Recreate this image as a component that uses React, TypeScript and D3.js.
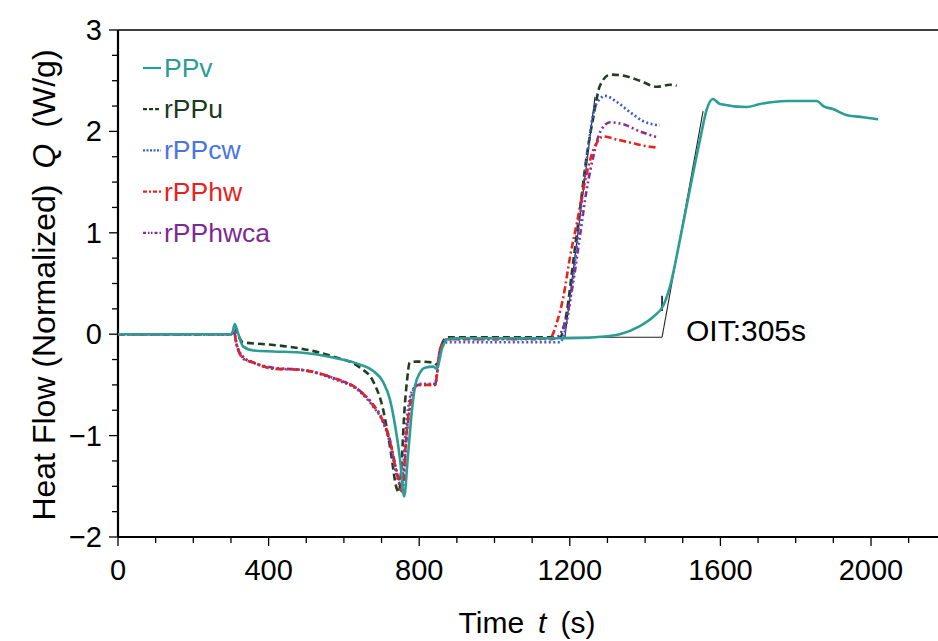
import React from "react";
import * as d3 from "d3";

// ---- data (time s, heat flow W/g) ----
const ppv: [number, number][] = [
  [0, 0], [300, 0], [305, 0.03], [310, 0.1], [318, 0.02], [332, -0.12], [360, -0.16], [412, -0.17],
  [483, -0.18], [571, -0.23], [643, -0.3], [677, -0.36], [704, -0.47], [722, -0.64], [736, -0.9],
  [749, -1.23], [760, -1.6], [770, -1.2], [781, -0.74], [789, -0.51], [802, -0.38], [815, -0.33],
  [837, -0.32], [847, -0.34], [860, -0.15], [874, -0.05], [900, -0.04], [1200, -0.04], [1300, -0.02],
  [1333, 0], [1386, 0.08], [1421, 0.17], [1448, 0.28], [1466, 0.47], [1493, 0.94], [1519, 1.43],
  [1546, 1.92], [1564, 2.22], [1580, 2.32], [1599, 2.27], [1670, 2.24], [1705, 2.27], [1777, 2.3],
  [1856, 2.3], [1873, 2.25], [1899, 2.22], [1936, 2.16], [1979, 2.14], [2019, 2.12],
];
const rppu: [number, number][] = [
  [0, 0], [300, 0], [306, 0.02], [310, 0.07], [318, 0], [332, -0.08], [395, -0.1], [483, -0.14],
  [571, -0.22], [643, -0.33], [677, -0.46], [704, -0.74], [722, -1.1], [741, -1.53], [746, -1.56],
  [754, -1.23], [760, -0.8], [767, -0.48], [775, -0.28], [793, -0.27], [837, -0.28], [847, -0.3],
  [860, -0.1], [874, -0.03], [900, -0.03], [1174, -0.03], [1192, 0.22], [1209, 0.71], [1227, 1.23],
  [1245, 1.76], [1263, 2.15], [1280, 2.45], [1307, 2.56], [1342, 2.55], [1386, 2.5], [1432, 2.44],
  [1466, 2.46], [1484, 2.45],
];
const rppcw: [number, number][] = [
  [0, 0], [300, 0], [308, 0.03], [315, -0.1], [332, -0.22], [360, -0.28], [412, -0.34], [483, -0.35],
  [571, -0.44], [643, -0.57], [677, -0.71], [704, -0.87], [722, -1.07], [741, -1.4], [754, -1.5],
  [762, -1.04], [770, -0.74], [784, -0.54], [802, -0.49], [842, -0.49], [855, -0.18], [874, -0.08],
  [900, -0.08], [1174, -0.08], [1192, 0.12], [1209, 0.57], [1227, 1.16], [1245, 1.72], [1263, 2.19],
  [1280, 2.32], [1294, 2.35], [1325, 2.29], [1360, 2.19], [1395, 2.1], [1439, 2.06],
];
const rpphw: [number, number][] = [
  [0, 0], [300, 0], [308, 0.02], [315, -0.1], [332, -0.24], [360, -0.28], [412, -0.34], [483, -0.35],
  [571, -0.43], [643, -0.56], [677, -0.7], [704, -0.86], [722, -1.05], [741, -1.38], [754, -1.55],
  [767, -0.95], [780, -0.6], [797, -0.5], [842, -0.5], [855, -0.15], [874, -0.05], [900, -0.05],
  [1147, -0.04], [1166, 0.12], [1183, 0.37], [1201, 0.77], [1219, 1.1], [1236, 1.43], [1254, 1.72],
  [1272, 1.89], [1289, 1.95], [1325, 1.92], [1360, 1.89], [1395, 1.86], [1434, 1.84],
];
const rpphwca: [number, number][] = [
  [0, 0], [300, 0], [308, 0.02], [315, -0.1], [332, -0.23], [360, -0.28], [412, -0.33], [483, -0.35],
  [571, -0.43], [643, -0.56], [677, -0.69], [704, -0.85], [722, -1.04], [741, -1.36], [756, -1.5],
  [768, -0.95], [782, -0.6], [797, -0.5], [842, -0.5], [855, -0.16], [874, -0.05], [900, -0.05],
  [1150, -0.05], [1166, -0.03], [1192, 0.18], [1209, 0.51], [1227, 0.97], [1245, 1.43], [1263, 1.76],
  [1280, 1.99], [1307, 2.09], [1342, 2.07], [1386, 2.0], [1434, 1.94],
];

const seriesNames = ["PPv", "rPPu", "rPPcw", "rPPhw", "rPPhwca"];
const xTickLabels = [0, 400, 800, 1200, 1600, 2000];
const yTickLabels = [-2, -1, 0, 1, 2, 3];
const oitLabel = "OIT:305s";
// tangent construction points (t, Q)
const oitBase: [number, number][] = [[1187, -0.03], [1445, -0.03]];
const oitTangentPPv: [number, number][] = [[1445, -0.03], [1554, 2.2]];
const oitTangentRPP: [number, number][] = [[1187, -0.03], [1267, 2.34]];
const oitMarker: [number, number][] = [[1445, 0.23], [1445, 0.38]];

const styles: Record<string, { stroke: string; text: string; dash: string; legendDash?: string }> = {
  PPv: { stroke: "#2a9d96", text: "#2a9d96", dash: "" },
  rPPu: { stroke: "#203f20", text: "#1c3a1c", dash: "7,4", legendDash: "4,2" },
  rPPcw: { stroke: "#3a5ae0", text: "#4a74e4", dash: "2,2.5", legendDash: "2,1.5" },
  rPPhw: { stroke: "#e5231f", text: "#e5231f", dash: "7,3,2,3", legendDash: "4,2,2,2" },
  rPPhwca: { stroke: "#8a2a9e", text: "#7d2a92", dash: "6,3,2,3,2,3", legendDash: "3,2,1.5,1.5,1.5,2" },
};

const W = 938;
const H = 641;
const FONT = "'Liberation Sans', Arial, Helvetica, sans-serif";

export default function App() {
  const x = d3.scaleLinear().domain([0, 2200]).range([118, 118 + (2200 * 150.6) / 400]);
  const y = d3.scaleLinear().domain([-2, 3]).range([537, 30]);
  const line = d3
    .line<[number, number]>()
    .x((d) => x(d[0]))
    .y((d) => y(d[1]))
    .curve(d3.curveMonotoneX);
  const straight = d3
    .line<[number, number]>()
    .x((d) => x(d[0]))
    .y((d) => y(d[1]));

  const data: Record<string, [number, number][]> = {
    PPv: ppv,
    rPPu: rppu,
    rPPcw: rppcw,
    rPPhw: rpphw,
    rPPhwca: rpphwca,
  };
  const drawOrder = ["rPPu", "rPPcw", "rPPhwca", "rPPhw", "PPv"];

  const xMinor = d3.range(0, 2101, 100);
  const yMinor = d3.range(-2, 3.001, 0.25);
  const x0 = x(0);
  const yBottom = y(-2);

  return (
    <svg
      width={W}
      height={H}
      style={{ position: "absolute", left: 0, top: 0, background: "#fff" }}
      fontFamily={FONT}
    >
      {/* frame */}
      <line x1={x0} x2={W} y1={y(3)} y2={y(3)} stroke="#000" strokeWidth={1.6} />
      <line x1={x0} x2={W} y1={yBottom} y2={yBottom} stroke="#000" strokeWidth={2.2} />
      <line x1={x0} x2={x0} y1={y(3)} y2={yBottom} stroke="#000" strokeWidth={2.2} />

      {/* x ticks */}
      {xMinor.map((t) => {
        const major = t % 400 === 0;
        return (
          <line key={"xt" + t} x1={x(t)} x2={x(t)} y1={yBottom} y2={yBottom + (major ? 9 : 6)} stroke="#000" strokeWidth={1.3} />
        );
      })}
      {xTickLabels.map((t) => (
        <text key={"xl" + t} x={x(t)} y={580} fontSize={29} textAnchor="middle" fill="#000">
          {t}
        </text>
      ))}

      {/* y ticks */}
      {yMinor.map((v) => {
        const major = Math.abs(v - Math.round(v)) < 1e-6;
        return (
          <line key={"yt" + v} x1={x0 - (major ? 9 : 6)} x2={x0} y1={y(v)} y2={y(v)} stroke="#000" strokeWidth={1.3} />
        );
      })}
      {yTickLabels.map((v) => (
        <text key={"yl" + v} x={102} y={y(v) + 10} fontSize={29} textAnchor="end" fill="#000">
          {v < 0 ? "\u2212" + Math.abs(v) : v}
        </text>
      ))}

      {/* axis titles */}
      <text x={527} y={633} fontSize={30} textAnchor="middle" fill="#000">
        Time
        <tspan dx={14} fontStyle="italic">t</tspan>
        <tspan dx={14}>(s)</tspan>
      </text>
      <text
        transform={`translate(55, ${285}) rotate(-90)`}
        fontSize={32}
        textAnchor="middle"
        fill="#000"
      >
        Heat Flow (Normalized)
        <tspan dx={16} fontStyle="italic">Q</tspan>
        <tspan dx={16}>(W/g)</tspan>
      </text>

      {/* OIT construction */}
      <path d={straight(oitBase) || ""} stroke="#222" strokeWidth={1.1} fill="none" />
      <path d={straight(oitTangentPPv) || ""} stroke="#222" strokeWidth={1.1} fill="none" />
      <path d={straight(oitTangentRPP) || ""} stroke="#222" strokeWidth={1.1} fill="none" />
      <path d={straight(oitMarker) || ""} stroke="#111" strokeWidth={1.6} fill="none" />

      {/* series */}
      {drawOrder.map((name) => (
        <path
          key={name}
          d={line(data[name]) || ""}
          fill="none"
          stroke={styles[name].stroke}
          strokeWidth={2.6}
          strokeDasharray={styles[name].dash || undefined}
          strokeLinejoin="round"
        />
      ))}

      <text x={686} y={341} fontSize={30} fill="#000">
        {oitLabel}
      </text>

      {/* legend */}
      {seriesNames.map((name, i) => {
        const by = 77 + i * 41.2;
        const st = styles[name];
        return (
          <g key={"lg" + name}>
            <line
              x1={143}
              x2={161}
              y1={by - 9}
              y2={by - 9}
              stroke={st.stroke}
              strokeWidth={2.2}
              strokeDasharray={st.legendDash}
            />
            <text x={164} y={by} fontSize={26.5} fill={st.text}>
              {name}
            </text>
          </g>
        );
      })}
    </svg>
  );
}
